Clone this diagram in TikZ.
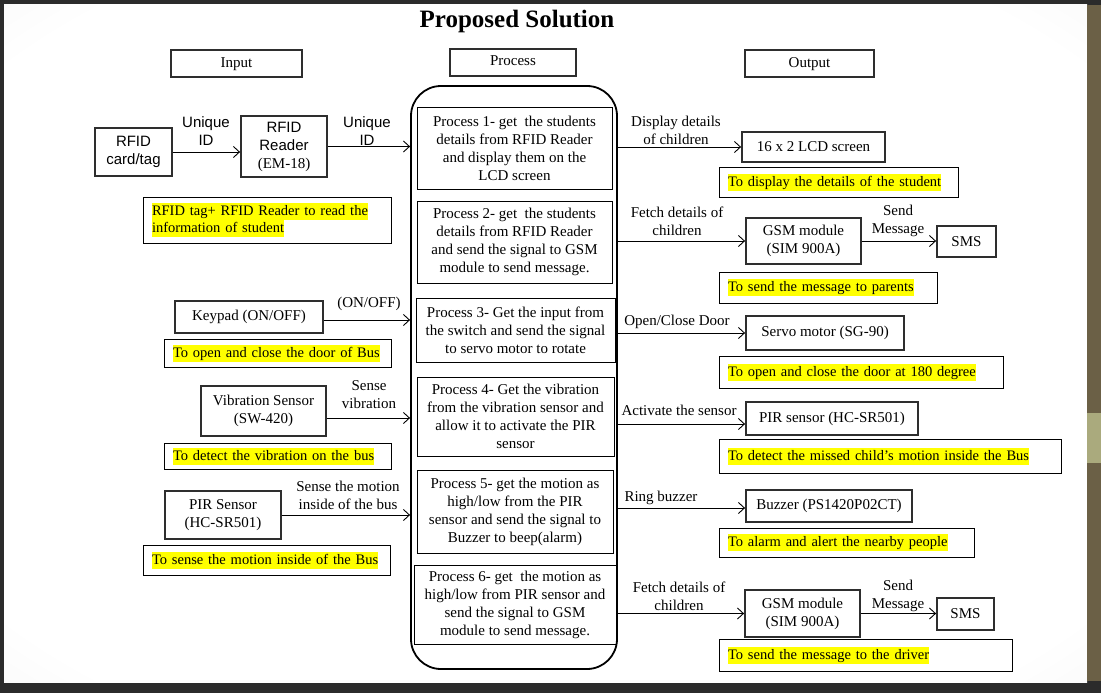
\documentclass[tikz,border=0pt]{standalone}
\usepackage{fontspec}
\setmainfont{Liberation Serif}
\newfontfamily\arialf{Liberation Sans}
\usetikzlibrary{arrows.meta}
\definecolor{framec}{HTML}{2B2B2B}
\definecolor{olivebar}{HTML}{6B6046}
\definecolor{olivelt}{HTML}{AAAA7D}
\definecolor{hlyellow}{HTML}{FFFF00}
\definecolor{boxline}{HTML}{2E2E2E}
\pgfdeclareradialshading{slidebg}{\pgfpoint{0bp}{0bp}}{color(0bp)=(white); color(32bp)=(white); color(52bp)=(black!9); color(72bp)=(black!15)}
\newcommand{\hlt}[1]{{\setlength{\fboxsep}{0pt}\colorbox{hlyellow}{\rule[-4.3pt]{0pt}{17pt}#1}}}
\begin{document}
\begin{tikzpicture}[x=1pt,y=-1pt,
  every node/.style={font=\fontsize{15}{18}\selectfont, inner sep=0pt},
  comp/.style 2 args={draw=boxline, line width=1.8pt, minimum width=#1pt, minimum height=#2pt, align=center},
  head/.style={text height=10pt, text depth=3pt},
  pbox/.style 2 args={draw, line width=0.9pt, minimum width=#1pt, minimum height=#2pt, align=center},
  note/.style 2 args={draw, line width=0.9pt, minimum width=#1pt, minimum height=#2pt, text width=#1pt-18pt, inner xsep=9pt, align=left, font=\fontsize{14.5}{17.5}\selectfont},
  lbl/.style={align=center},
  arr/.style={line width=0.9pt, -{Straight Barb[length=6pt,width=11pt]}},
]
\useasboundingbox (0,0) rectangle (1101,693);
% background
\fill[framec] (0,0) rectangle (1101,693);
\shade[shading=slidebg] (4,5) rectangle (1087,682);
\fill[olivebar] (1087,5) rectangle (1101,681);
\fill[olivelt] (1087,413) rectangle (1101,463);

% title and headers
\node (title) at (517,21) {\fontsize{25}{30}\selectfont\bfseries Proposed Solution};
\node[comp={131}{27}, head] (inp) at (236.5,63.5) {Input};
\node[comp={126}{27}, head] (proc) at (513,62.5) {Process};
\node[comp={129}{27}, head] (outp) at (809.5,63.5) {Output};

% process column
\node[draw, line width=1.8pt, rounded corners=30pt, minimum width=206pt, minimum height=583pt] (big) at (514,377.5) {};
\node[pbox={195}{82}] (p1) at (514.5,148) {Process 1- get\ \ the students\\details from RFID Reader\\and display them on the\\LCD screen};
\node[pbox={195}{82}] (p2) at (514.5,242) {Process 2- get\ \ the students\\details from RFID Reader\\and send the signal to GSM\\module to send message.};
\node[pbox={199}{64}] (p3) at (515.5,330) {Process 3- Get the input from\\the switch and send the signal\\to servo motor to rotate};
\node[pbox={197}{79}] (p4) at (515.5,416.5) {Process 4- Get the vibration\\from the vibration sensor and\\allow it to activate the PIR\\sensor};
\node[pbox={196}{83}] (p5) at (515,511.5) {Process 5- get the motion as\\high/low from the PIR\\sensor and send the signal to\\Buzzer to beep(alarm)};
\node[pbox={202}{79}] (p6) at (515,604.5) {Process 6- get\ \ the motion as\\high/low from PIR sensor and\\send the signal to GSM\\module to send message.};

% input column
\node[comp={77}{48}] (card) at (133.5,152) {\arialf RFID\\\arialf card/tag};
\node[comp={86}{61}] (reader) at (284,146.5) {\arialf RFID\\\arialf Reader\\(EM-18)};
\node[note={248}{46}] (n1) at (267,220) {\hlt{RFID tag+ RFID Reader to read the}\\\hlt{information of student}};
\node[comp={148}{32}] (keypad) at (249,317) {Keypad (ON/OFF)};
\node[note={227}{28}] (n2) at (277.5,353) {\hlt{To open and close the door of Bus}};
\node[comp={125}{50}] (vib) at (263.5,411) {Vibration Sensor\\(SW-420)};
\node[note={227}{26}] (n3) at (277.5,456) {\hlt{To detect the vibration on the bus}};
\node[comp={116}{48}] (pirin) at (223,515) {PIR Sensor\\(HC-SR501)};
\node[note={247}{30}] (n4) at (266.5,560) {\hlt{To sense the motion inside of the Bus}};

% output column
\node[comp={143}{30}] (lcd) at (813.5,147) {16 x 2 LCD screen};
\node[note={239}{30}] (n5) at (838.5,182) {\hlt{To display the details of the student}};
\node[comp={115}{46}] (gsm1) at (803.5,241) {GSM module\\(SIM 900A)};
\node[comp={59}{31}] (sms1) at (966.5,241.5) {SMS};
\node[note={218}{31}] (n6) at (828,287.5) {\hlt{To send the message to parents}};
\node[comp={158}{34}] (servo) at (825,333) {Servo motor (SG-90)};
\node[note={284}{32}] (n7) at (861,372) {\hlt{To open and close the door at 180 degree}};
\node[comp={172}{33}] (pirout) at (832,418.5) {PIR sensor (HC-SR501)};
\node[note={342}{34}] (n8) at (890,456) {\hlt{To detect the missed child’s motion inside the Bus}};
\node[comp={166}{32}] (buzz) at (829,506) {Buzzer (PS1420P02CT)};
\node[note={255}{29}] (n9) at (846.5,542.5) {\hlt{To alarm and alert the nearby people}};
\node[comp={115}{47}] (gsm2) at (802.5,613.5) {GSM module\\(SIM 900A)};
\node[comp={57}{32}] (sms2) at (965.5,614) {SMS};
\node[note={293}{32}] (n10) at (865.5,655) {\hlt{To send the message to the driver}};

% input connectors
\draw[arr] (card.east) -- (reader.west |- card.east);
\draw[arr] (reader.east) -- (big.west |- reader.east);
\coordinate (kpo) at ([yshift=-3pt]keypad.east);
\draw[arr] (kpo) -- (big.west |- kpo);
\coordinate (vibo) at ([yshift=-7pt]vib.east);
\draw[arr] (vibo) -- (big.west |- vibo);
\draw[arr] (pirin.east) -- (big.west |- pirin.east);

% output connectors
\draw[arr] (big.east |- lcd.west) -- (lcd.west);
\draw[arr] (big.east |- gsm1.west) -- (gsm1.west);
\draw[arr] (gsm1.east) -- (sms1.west |- gsm1.east);
\draw[arr] (big.east |- servo.west) -- (servo.west);
\coordinate (piri) at ([yshift=-5.5pt]pirout.west);
\draw[arr] (big.east |- piri) -- (piri);
\coordinate (buzi) at ([yshift=-2pt]buzz.west);
\draw[arr] (big.east |- buzi) -- (buzi);
\draw[arr] (big.east |- gsm2.west) -- (gsm2.west);
\draw[arr] (gsm2.east) -- (sms2.west |- gsm2.east);

% connector labels
\node[lbl] (l1) at (206,131) {\arialf Unique\\\arialf ID};
\node[lbl] (l2) at (367,131) {\arialf Unique\\\arialf ID};
\node[lbl] (l3) at (369,304) {(ON/OFF)};
\node[lbl] (l4) at (369,395) {Sense\\vibration};
\node[lbl] (l5) at (348,495) {Sense the motion\\inside of the bus};
\node[lbl] (l6) at (676,130) {Display details\\of children};
\node[lbl] (l7) at (677,221) {Fetch details of\\children};
\node[lbl] (l8) at (898,221) {Send\\Message};
\node[lbl] (l9) at (677,322) {Open/Close Door};
\node[lbl] (l10) at (679,410) {Activate the sensor};
\node[lbl] (l11) at (661,498) {Ring buzzer};
\node[lbl] (l12) at (679,596) {Fetch details of\\children};
\node[lbl] (l13) at (898,596) {Send\\Message};
\end{tikzpicture}
\end{document}
